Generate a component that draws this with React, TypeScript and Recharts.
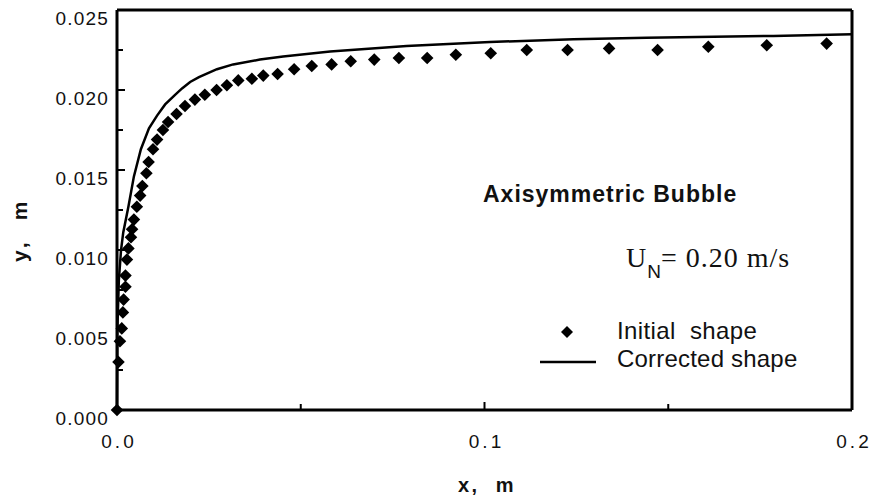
import * as React from 'react'
import { ComposedChart, Line, Scatter, XAxis, YAxis, ReferenceLine } from 'recharts'

// initial shape (diamonds)
const initialX = [0, 0.0004, 0.0008, 0.0013, 0.0016, 0.0018, 0.0023, 0.0023, 0.0027, 0.0031, 0.0038, 0.0041, 0.0046, 0.0054, 0.0063, 0.0069, 0.0080, 0.0086, 0.0098, 0.0109, 0.0125, 0.0139, 0.0162, 0.0185, 0.0212, 0.0239, 0.0271, 0.0299, 0.0330, 0.0367, 0.0398, 0.0437, 0.0482, 0.0530, 0.0584, 0.0636, 0.0700, 0.0767, 0.0844, 0.0922, 0.1017, 0.1115, 0.1226, 0.1339, 0.1471, 0.1609, 0.1768, 0.1931]
const initialY = [0, 0.0030, 0.0043, 0.0051, 0.0061, 0.0069, 0.0077, 0.0084, 0.0094, 0.0101, 0.0108, 0.0113, 0.0119, 0.0127, 0.0134, 0.0140, 0.0148, 0.0155, 0.0163, 0.0169, 0.0175, 0.0180, 0.0185, 0.0190, 0.0194, 0.0197, 0.0200, 0.0203, 0.0206, 0.0207, 0.0209, 0.0210, 0.0213, 0.0215, 0.0216, 0.0218, 0.0219, 0.0220, 0.0220, 0.0222, 0.0223, 0.0225, 0.0225, 0.0226, 0.0225, 0.0227, 0.0228, 0.0229]

// corrected shape (solid line)
const correctedX = [0, 0.0001, 0.0005, 0.0011, 0.0017, 0.0031, 0.0046, 0.0065, 0.0087, 0.0109, 0.0131, 0.0158, 0.0177, 0.0199, 0.0223, 0.0272, 0.0316, 0.0389, 0.0452, 0.0580, 0.0788, 0.1015, 0.1242, 0.1441, 0.1786, 0.2]
const correctedY = [0, 0.0050, 0.0081, 0.0100, 0.0111, 0.0127, 0.0146, 0.0163, 0.0176, 0.0184, 0.0191, 0.0197, 0.0201, 0.0205, 0.0208, 0.0213, 0.0216, 0.0219, 0.0221, 0.0224, 0.02275, 0.0230, 0.02317, 0.02327, 0.02338, 0.02348]

const xTicks = [0, 0.05, 0.1, 0.15, 0.2]
const xTickLabels = ['0.0', '', '0.1', '', '0.2']
const yTicks = [0, 0.0025, 0.005, 0.0075, 0.01, 0.0125, 0.015, 0.0175, 0.02, 0.0225, 0.025]
const yTickLabels = ['0.000', '', '0.005', '', '0.010', '', '0.015', '', '0.020', '', '0.025']

const W = 879
const H = 496
const SANS = 'Liberation Sans, Arial, Helvetica, sans-serif'
const SERIF = 'Liberation Serif, Times New Roman, serif'

const initialData = initialX.map((x, i) => ({ x, y: initialY[i] }))
const correctedData = correctedX.map((x, i) => ({ x, y: correctedY[i] }))

const Diamond = (props: any) => {
  const { cx, cy } = props
  if (cx == null || cy == null) return null
  const r = 6.3
  return <polygon points={`${cx},${cy - r} ${cx + r},${cy} ${cx},${cy + r} ${cx - r},${cy}`} fill="#000" />
}

// inward ticks, labels outside
const XTick = (props: any) => {
  const { x, y, payload } = props
  const i = xTicks.indexOf(payload.value)
  const label = xTickLabels[i] || ''
  const len = label ? 8 : 6
  return (
    <g>
      <line x1={x} y1={y} x2={x} y2={y - len} stroke="#000" strokeWidth={2} />
      {label && (
        <text x={x + 2} y={y + 38} textAnchor="middle" fontFamily={SANS} fontSize={19} letterSpacing={3} fill="#111">{label}</text>
      )}
    </g>
  )
}

const YTick = (props: any) => {
  const { x, y, payload } = props
  const i = yTicks.indexOf(payload.value)
  const label = yTickLabels[i] || ''
  const len = label ? 8 : 6
  return (
    <g>
      <line x1={x} y1={y} x2={x + len} y2={y} stroke="#000" strokeWidth={2} />
      {label && (
        <text x={x - 8} y={y + 15} textAnchor="end" fontFamily={SANS} fontSize={19} letterSpacing={1.2} fill="#111">{label}</text>
      )}
    </g>
  )
}

export default function App() {
  return (
    <div style={{ position: 'absolute', left: 0, top: 0, width: W, height: H, background: '#fff' }}>
      <ComposedChart width={W} height={H} margin={{ top: 10, right: 27, left: 57, bottom: 46 }}>
        <XAxis
          type="number"
          dataKey="x"
          domain={[0, 0.2]}
          ticks={xTicks}
          interval={0}
          height={40}
          tickSize={0}
          tickMargin={0}
          tickLine={false}
          tick={<XTick />}
          axisLine={{ stroke: '#000', strokeWidth: 3 }}
        />
        <YAxis
          type="number"
          dataKey="y"
          domain={[0, 0.025]}
          ticks={yTicks}
          interval={0}
          width={60}
          tickSize={0}
          tickMargin={0}
          tickLine={false}
          tick={<YTick />}
          axisLine={{ stroke: '#000', strokeWidth: 3 }}
        />
        <ReferenceLine y={0.025} stroke="#000" strokeWidth={3} />
        <ReferenceLine x={0.2} stroke="#000" strokeWidth={3} />
        <Line
          data={correctedData}
          dataKey="y"
          type="linear"
          stroke="#000"
          strokeWidth={2.5}
          dot={false}
          activeDot={false}
          isAnimationActive={false}
        />
        <Scatter data={initialData} dataKey="y" shape={<Diamond />} isAnimationActive={false} />
      </ComposedChart>

      <svg width={W} height={H} style={{ position: 'absolute', left: 0, top: 0, pointerEvents: 'none' }}>
        <text x={483} y={202} fontFamily={SANS} fontSize={23} fontWeight="bold" letterSpacing={1} fill="#111">Axisymmetric Bubble</text>
        <text x={626} y={267} fontFamily={SERIF} fontSize={28} letterSpacing={1} fill="#111">
          U
          <tspan dy={11} fontFamily={SANS} fontSize={19} letterSpacing={0}>N</tspan>
          <tspan dy={-11}>= 0.20 m/s</tspan>
        </text>
        <polygon points="567,326 573,332 567,338 561,332" fill="#000" />
        <text x={617} y={339} fontFamily={SANS} fontSize={24} letterSpacing={0.4} fill="#111" style={{ whiteSpace: 'pre' }}>Initial  shape</text>
        <line x1={540} y1={362} x2={596} y2={362} stroke="#000" strokeWidth={2.5} />
        <text x={617} y={367} fontFamily={SANS} fontSize={24} letterSpacing={0.2} fill="#111">Corrected shape</text>
        <text x={487} y={492} textAnchor="middle" fontFamily={SANS} fontSize={20} fontWeight="bold" letterSpacing={2.5} fill="#111" style={{ whiteSpace: 'pre' }}>x,  m</text>
        <text x={27} y={230} transform="rotate(-90 27 230)" textAnchor="middle" fontFamily={SANS} fontSize={21} fontWeight="bold" letterSpacing={3.5} fill="#111" style={{ whiteSpace: 'pre' }}>y,  m</text>
      </svg>
    </div>
  )
}
